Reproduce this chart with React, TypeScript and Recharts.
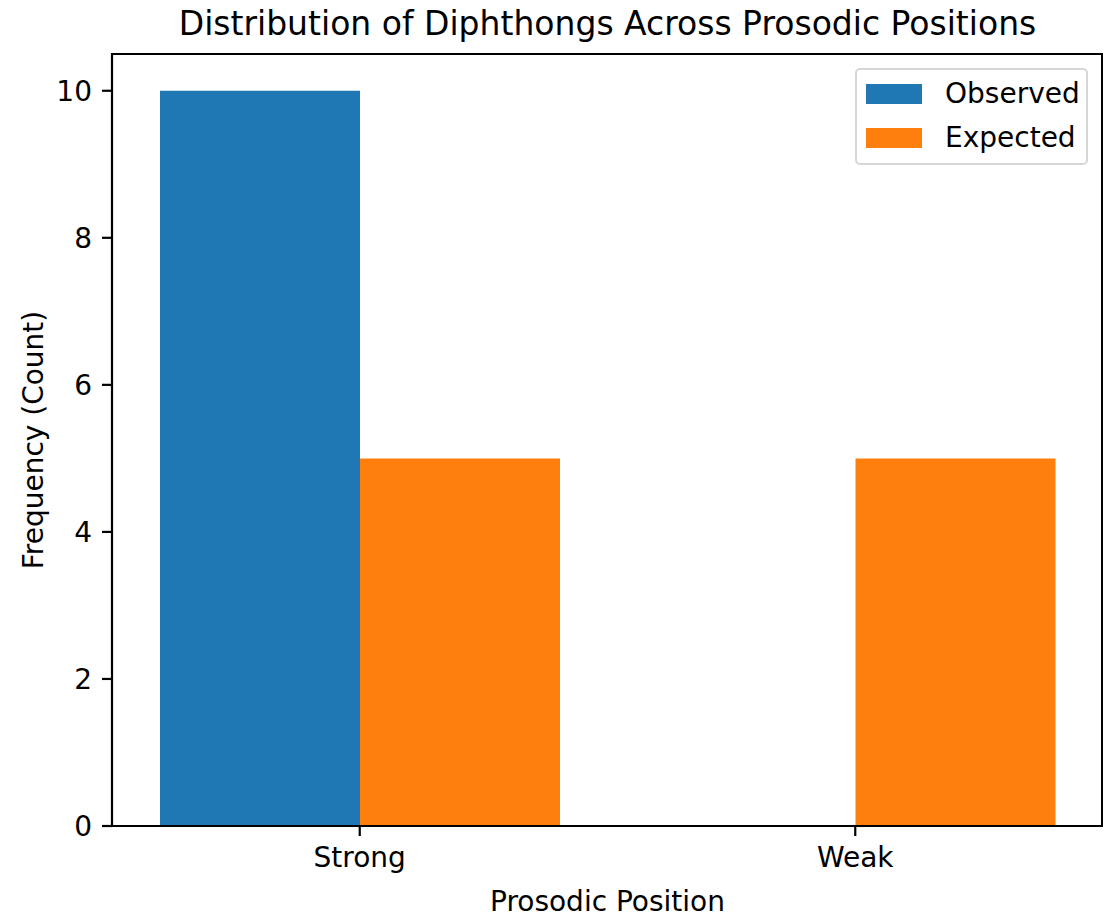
import { BarChart, Bar, XAxis, YAxis } from "recharts";

const positions = ["Strong", "Weak"];
const observed = [10, 0];
const expected = [5, 5];
const yTicks = [0, 2, 4, 6, 8, 10];

const data = positions.map((p, i) => ({ name: p, observed: observed[i], expected: expected[i] }));

const FONT = "DejaVu Sans, sans-serif";

const legendItems = [
    { label: "Observed", color: "#1f77b4" },
    { label: "Expected", color: "#ff7f0e" },
];

// plot area of the chart (matplotlib-like axes box)
const PLOT = { left: 112, top: 54, right: 1103, bottom: 826 };

function LegendBox() {
    return (
        <div
            style={{
                position: "absolute",
                left: 855,
                top: 68,
                width: 233,
                height: 97,
                boxSizing: "border-box",
                border: "2px solid #d6d6d6",
                borderRadius: 5,
                background: "rgba(255,255,255,0.8)",
                padding: "2px 0 0 9px",
                fontSize: 28,
                color: "#000",
            }}
        >
            {legendItems.map((item) => (
                <div key={item.label} style={{ display: "flex", alignItems: "center", height: 44 }}>
                    <div style={{ width: 56, height: 20, background: item.color }} />
                    <span style={{ marginLeft: 23, lineHeight: "28px" }}>{item.label}</span>
                </div>
            ))}
        </div>
    );
}

export default function App() {
    return (
        <div style={{ position: "absolute", left: 0, top: 0, width: 1117, height: 921, background: "#fff", fontFamily: FONT }}>
            <div style={{ position: "absolute", left: PLOT.left, width: PLOT.right - PLOT.left, top: 4, textAlign: "center", fontSize: 33, color: "#000" }}>
                Distribution of Diphthongs Across Prosodic Positions
            </div>
            <BarChart
                width={1117}
                height={921}
                data={data}
                margin={{ top: PLOT.top, right: 1117 - PLOT.right, left: 52, bottom: 35 }}
                barGap={0}
                barSize={200}
            >
                <XAxis
                    dataKey="name"
                    height={60}
                    tickSize={10}
                    tickMargin={11}
                    stroke="#000"
                    strokeWidth={2.2}
                    tick={{ fill: "#000", fontSize: 28, fontFamily: FONT }}
                />
                <YAxis
                    domain={[0, 10.5]}
                    ticks={yTicks}
                    width={60}
                    tickSize={10}
                    tickMargin={10}
                    stroke="#000"
                    strokeWidth={2.2}
                    tick={{ fill: "#000", fontSize: 28, fontFamily: FONT }}
                />
                <Bar dataKey="observed" name="Observed" fill="#1f77b4" isAnimationActive={false} />
                <Bar dataKey="expected" name="Expected" fill="#ff7f0e" isAnimationActive={false} />
            </BarChart>
            {/* top and right spines */}
            <div
                style={{
                    position: "absolute",
                    left: PLOT.left - 1,
                    top: PLOT.top - 1,
                    width: PLOT.right - PLOT.left + 1,
                    height: PLOT.bottom - PLOT.top + 1,
                    borderTop: "2.2px solid #000",
                    borderRight: "2.2px solid #000",
                    boxSizing: "border-box",
                    pointerEvents: "none",
                }}
            />
            <LegendBox />
            <div style={{ position: "absolute", left: PLOT.left, width: PLOT.right - PLOT.left, top: 885, textAlign: "center", fontSize: 28, color: "#000" }}>
                Prosodic Position
            </div>
            <div
                style={{
                    position: "absolute",
                    left: 33,
                    top: 440,
                    transform: "translate(-50%, -50%) rotate(-90deg)",
                    whiteSpace: "nowrap",
                    fontSize: 28,
                    color: "#000",
                }}
            >
                Frequency (Count)
            </div>
        </div>
    );
}
